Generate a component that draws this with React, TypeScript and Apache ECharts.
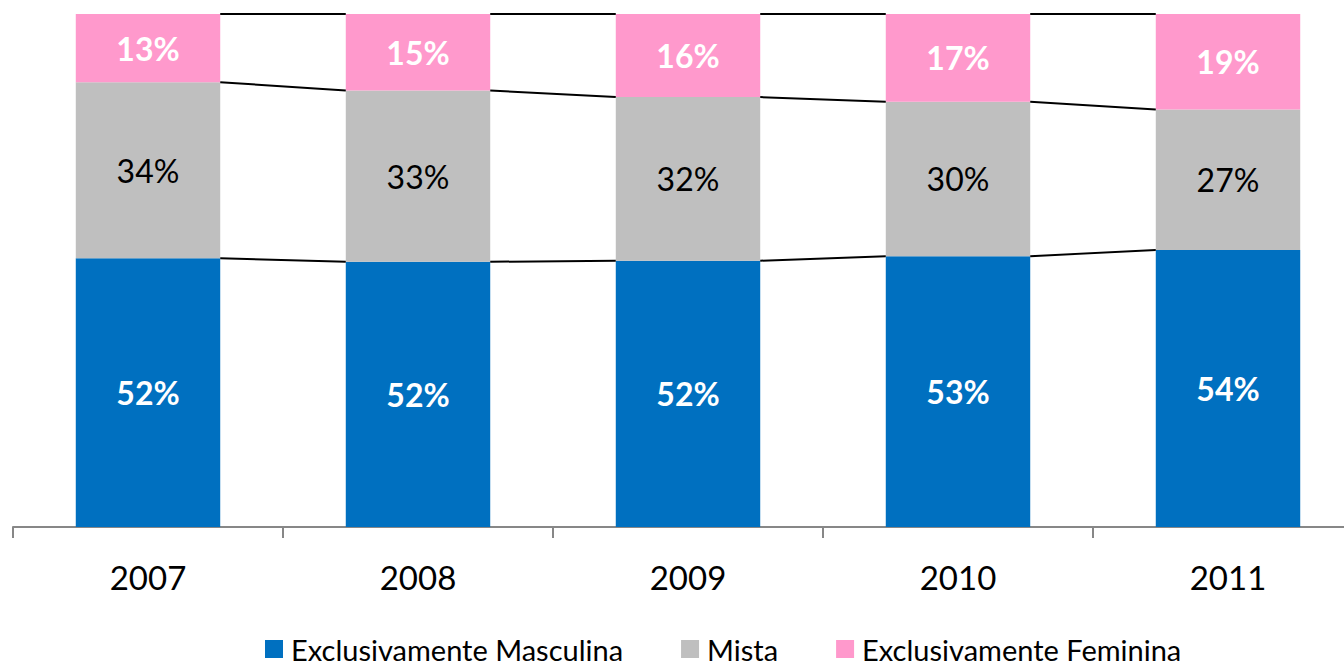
import React, { useEffect, useRef } from "react";
import * as echarts from "echarts";

const years = ["2007", "2008", "2009", "2010", "2011"];
const masculina = [52.4, 51.7, 51.9, 52.8, 54.0];
const mista = [34.3, 33.4, 31.9, 30.1, 27.4];
const feminina = [13.3, 14.9, 16.2, 17.1, 18.6];
const seriesNames = ["Exclusivamente Masculina", "Mista", "Exclusivamente Feminina"];
const colors = ["#0070C0", "#BFBFBF", "#FF99CC"];

const FONT = "Lato, 'Open Sans', sans-serif";

export default function App() {
  const ref = useRef<HTMLDivElement>(null);
  useEffect(() => {
    if (!ref.current) return;
    const chart = echarts.init(ref.current, undefined, { renderer: "svg" });
    const BAR_FRAC = 0.535;
    const pct = (p: any) => Math.round(p.value) + "%";
    const labelFor = (color: string, weight: string) => ({
      show: true,
      position: "inside",
      formatter: pct,
      color,
      fontWeight: weight,
      fontSize: 32,
      fontFamily: FONT,
    });
    const cums = years.map((_, i) => [
      masculina[i],
      masculina[i] + mista[i],
      masculina[i] + mista[i] + feminina[i],
    ]);
    chart.setOption({
      animation: false,
      grid: { left: 13, top: 14, width: 1350, height: 513, containLabel: false },
      legend: {
        data: seriesNames,
        left: 265,
        top: 633,
        padding: 0,
        itemWidth: 18,
        itemHeight: 18,
        itemGap: 58,
        icon: "rect",
        textStyle: { fontSize: 29, lineHeight: 32, fontFamily: FONT, color: "#000", padding: [0, 0, 0, 3] },
      },
      xAxis: {
        type: "category",
        data: years,
        axisLine: { lineStyle: { color: "#878787", width: 2 } },
        axisTick: { show: true, length: 11, lineStyle: { color: "#878787", width: 2 } },
        axisLabel: { fontSize: 33, fontFamily: FONT, color: "#000", margin: 33 },
      },
      yAxis: { type: "value", min: 0, max: 100, show: false, splitLine: { show: false } },
      series: [
        {
          name: seriesNames[0], type: "bar", stack: "t", data: masculina,
          barWidth: "53.5%", itemStyle: { color: colors[0] },
          label: labelFor("#fff", "bold"),
        },
        {
          name: seriesNames[1], type: "bar", stack: "t", data: mista,
          itemStyle: { color: colors[1] },
          label: labelFor("#000", "normal"),
        },
        {
          name: seriesNames[2], type: "bar", stack: "t", data: feminina,
          itemStyle: { color: colors[2] },
          label: labelFor("#fff", "bold"),
        },
        {
          name: "lines",
          type: "custom",
          data: years.slice(0, -1).map((_, i) => [i]),
          renderItem: (params: any, api: any) => {
            const i = params.dataIndex;
            const half = (api.size([1, 0])[0] * BAR_FRAC) / 2;
            const children = [0, 1, 2].map((k) => {
              const a = api.coord([i, cums[i][k]]);
              const b = api.coord([i + 1, cums[i + 1][k]]);
              return {
                type: "line",
                shape: { x1: a[0] + half, y1: a[1], x2: b[0] - half, y2: b[1] },
                style: { stroke: "#000", lineWidth: 2 },
              };
            });
            return { type: "group", children };
          },
          z: 5,
          silent: true,
        },
      ],
    });
    return () => chart.dispose();
  }, []);
  return (
    <div style={{ position: "fixed", left: 0, top: 0, width: 1344, height: 667, overflow: "hidden", background: "#fff" }}>
      <div ref={ref} style={{ width: 1400, height: 667 }} />
    </div>
  );
}
